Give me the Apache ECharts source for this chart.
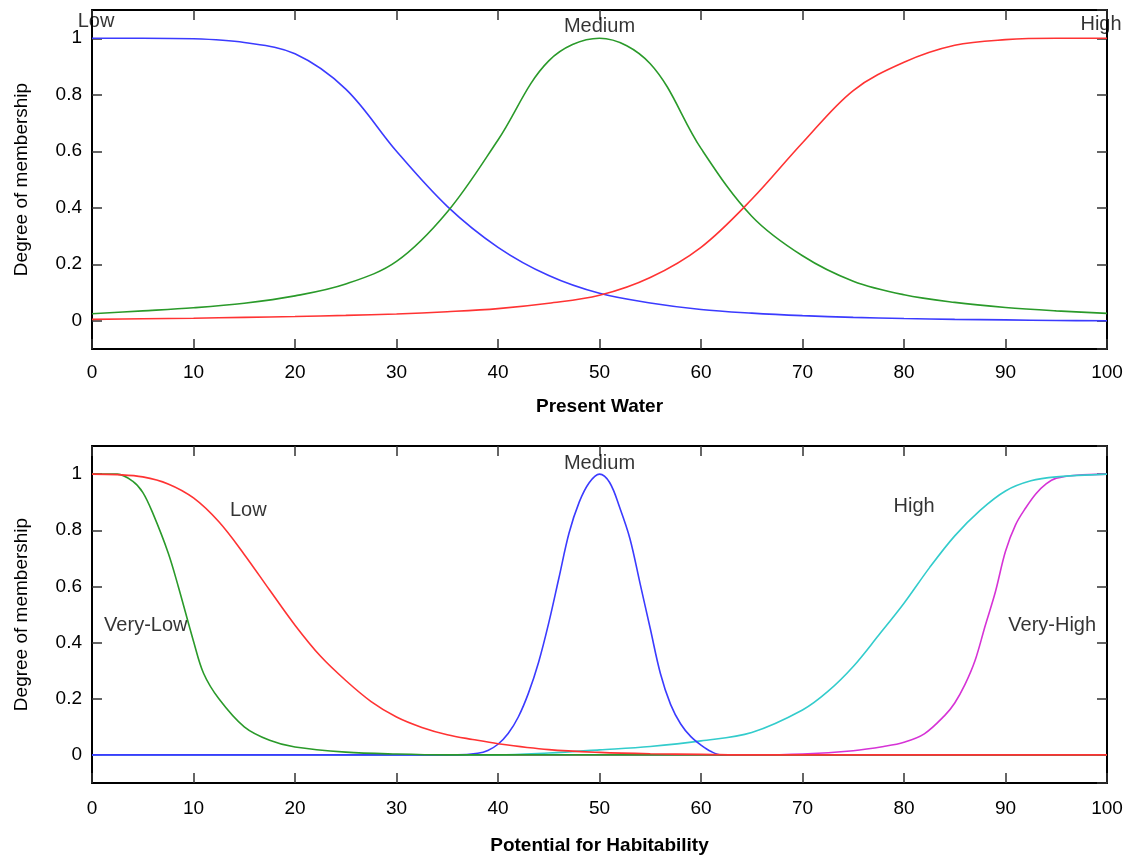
<!DOCTYPE html>
<html>
<head>
<meta charset="utf-8">
<title>Membership functions</title>
<script src="https://cdn.jsdelivr.net/npm/echarts@6.0.0/dist/echarts.min.js"></script>
<style>
  html, body { margin: 0; padding: 0; background: #fff; }
  #chart { width: 1130px; height: 859px; }
</style>
</head>
<body>
<div id="chart"></div>
<script>
// upper panel: Present Water
const topX = [0, 5, 10, 15, 20, 25, 30, 35, 40, 45, 50, 55, 60, 65, 70, 75, 80, 85, 90, 95, 100]
const topLow = [1.0, 1.0, 0.998, 0.985, 0.945, 0.82, 0.6, 0.405, 0.26, 0.16, 0.097, 0.063, 0.04, 0.027, 0.018, 0.012, 0.008, 0.005, 0.003, 0.001, 0.0]
const topMedium = [0.025, 0.035, 0.046, 0.062, 0.088, 0.13, 0.21, 0.385, 0.64, 0.92, 1.0, 0.91, 0.61, 0.37, 0.23, 0.14, 0.092, 0.065, 0.047, 0.035, 0.026]
const topHigh = [0.005, 0.007, 0.009, 0.012, 0.015, 0.019, 0.024, 0.032, 0.043, 0.062, 0.09, 0.153, 0.26, 0.43, 0.63, 0.815, 0.915, 0.975, 0.995, 1.0, 1.0]

// lower panel: Potential for Habitability
const vlowX = [0, 2.5, 4, 5, 6, 7.5, 8.5, 10, 11, 12.5, 15, 17.5, 20, 25, 30, 35, 100]
const vlowY = [1.0, 1.0, 0.975, 0.935, 0.86, 0.72, 0.6, 0.405, 0.29, 0.2, 0.1, 0.052, 0.028, 0.01, 0.003, 0, 0]
const lowX = [0, 2.5, 5, 7.5, 10, 12.5, 15, 17.5, 20, 22.5, 25, 27.5, 30, 32.5, 35, 37.5, 40, 45, 50, 55, 60, 65, 100]
const lowY = [1.0, 0.998, 0.99, 0.965, 0.915, 0.83, 0.714, 0.587, 0.462, 0.352, 0.265, 0.19, 0.135, 0.098, 0.072, 0.055, 0.04, 0.019, 0.009, 0.004, 0.002, 0, 0]
const medX = [0, 36, 38, 39, 40, 41, 42, 43, 44, 45, 46, 47, 48, 49, 50, 51, 52, 53, 54, 55, 56, 57, 58, 59, 60, 61, 62, 100]
const medY = [0, 0, 0.006, 0.016, 0.038, 0.076, 0.135, 0.22, 0.33, 0.47, 0.63, 0.79, 0.9, 0.97, 1.0, 0.97, 0.88, 0.77, 0.61, 0.45, 0.29, 0.18, 0.11, 0.065, 0.035, 0.012, 0, 0]
const highX = [0, 40, 45, 50, 55, 60, 65, 70, 72.5, 75, 77.5, 80, 82.5, 85, 87.5, 90, 92.5, 95, 100]
const highY = [0, 0, 0.007, 0.018, 0.03, 0.05, 0.08, 0.16, 0.226, 0.315, 0.426, 0.54, 0.666, 0.78, 0.871, 0.94, 0.976, 0.99, 1.0]
const vhighX = [0, 65, 70, 75, 78, 80, 82, 84, 85, 86, 87, 88, 89, 90, 91, 92, 93, 94, 95, 97, 100]
const vhighY = [0, 0, 0.003, 0.015, 0.03, 0.045, 0.075, 0.14, 0.185, 0.25, 0.336, 0.46, 0.58, 0.725, 0.82, 0.88, 0.93, 0.965, 0.985, 0.996, 1.0]

// curve names written inside the panels
const topNames = ['Low', 'Medium', 'High']
const topNameX = [0, 50, 100]
const topNameY = [1.06, 1.04, 1.05]
const botNames = ['Medium', 'Low', 'High', 'Very-Low', 'Very-High']
const botNameX = [50, 15.4, 81, 5.3, 94.6]
const botNameY = [1.036, 0.869, 0.883, 0.46, 0.462]

const FONT = 'Liberation Sans, Arial, Helvetica, sans-serif'
const pairs = (xs, ys) => xs.map((x, i) => [x, ys[i]])

const yLabel = v => {
  const r = Math.round(v * 10) / 10
  if (r < 0 || r > 1 || Math.abs(r * 5 - Math.round(r * 5)) > 1e-6) return ''
  return String(r)
}

const myChart = echarts.init(document.getElementById('chart'))

const grids = [
  { left: 92, right: 23, top: 10, height: 339, outerBoundsMode: 'none', containLabel: false },
  { left: 92, right: 23, top: 446, height: 337, outerBoundsMode: 'none', containLabel: false }
]

const xAxisFor = (gi, name, gap, labelMargin) => ([
  {
    type: 'value', gridIndex: gi, min: 0, max: 100, interval: 10,
    name: name, nameLocation: 'middle', nameGap: gap,
    nameTextStyle: { fontFamily: FONT, fontSize: 19, fontWeight: 'bold', color: '#000' },
    axisLine: { onZero: false, lineStyle: { color: '#000', width: 2 } },
    axisTick: { inside: true, length: 10, lineStyle: { color: '#333', width: 1.5 } },
    axisLabel: { fontFamily: FONT, fontSize: 19, color: '#000', margin: labelMargin },
    splitLine: { show: false }
  },
  {
    type: 'value', gridIndex: gi, position: 'top', min: 0, max: 100, interval: 10,
    axisLine: { onZero: false, lineStyle: { color: '#000', width: 2 } },
    axisTick: { inside: true, length: 10, lineStyle: { color: '#333', width: 1.5 } },
    axisLabel: { show: false },
    splitLine: { show: false }
  }
])

const yAxisFor = gi => ([
  {
    type: 'value', gridIndex: gi, min: -0.1, max: 1.1, splitNumber: 6,
    name: 'Degree of membership', nameLocation: 'middle', nameGap: 61,
    nameTextStyle: { fontFamily: FONT, fontSize: 19, color: '#000' },
    axisLine: { onZero: false, lineStyle: { color: '#000', width: 2 } },
    axisTick: { inside: true, length: 10, lineStyle: { color: '#333', width: 1.5 } },
    axisLabel: { fontFamily: FONT, fontSize: 19, color: '#000', margin: 10, formatter: yLabel, showMinLabel: false, showMaxLabel: false },
    splitLine: { show: false }
  },
  {
    type: 'value', gridIndex: gi, position: 'right', min: -0.1, max: 1.1, splitNumber: 6,
    axisLine: { onZero: false, lineStyle: { color: '#000', width: 2 } },
    axisTick: { inside: true, length: 10, lineStyle: { color: '#333', width: 1.5 } },
    axisLabel: { show: false },
    splitLine: { show: false }
  }
])

const curve = (gi, data, color) => ({
  type: 'line', xAxisIndex: gi * 2, yAxisIndex: gi * 2,
  data: data, smooth: 0.35, showSymbol: false, symbol: 'none',
  lineStyle: { color: color, width: 1.6 },
  silent: true, animation: false
})

const nameMarks = (gi, names, xs, ys, offsets) => ({
  type: 'scatter', xAxisIndex: gi * 2, yAxisIndex: gi * 2,
  symbolSize: 0, silent: true, animation: false, clip: false,
  data: names.map((n, i) => ({
    value: [xs[i], ys[i]], name: n,
    label: { offset: offsets[i] || [0, 0] }
  })),
  label: {
    show: true, position: 'inside', formatter: p => p.name,
    fontFamily: FONT, fontSize: 20, color: '#000',
    textBorderWidth: 0, textShadowBlur: 0
  }
})

myChart.setOption({
  backgroundColor: '#fff',
  animation: false,
  grid: grids,
  xAxis: [...xAxisFor(0, 'Present Water', 48, 14), ...xAxisFor(1, 'Potential for Habitability', 53, 16)],
  yAxis: [...yAxisFor(0), ...yAxisFor(1)],
  series: [
    curve(0, pairs(topX, topLow), '#3b3bff'),
    curve(0, pairs(topX, topMedium), '#2a9a2a'),
    curve(0, pairs(topX, topHigh), '#ff3333'),
    nameMarks(0, topNames, topNameX, topNameY, [[4, 0], [0, 0], [-6, 0]]),

    curve(1, pairs(vhighX, vhighY), '#d633d6'),
    curve(1, pairs(highX, highY), '#33cccc'),
    curve(1, pairs(medX, medY), '#3b3bff'),
    curve(1, pairs(vlowX, vlowY), '#2a9a2a'),
    curve(1, pairs(lowX, lowY), '#ff3333'),
    nameMarks(1, botNames, botNameX, botNameY, [])
  ]
})

window.addEventListener('resize', () => {
  myChart.resize()
})
</script>
</body>
</html>
